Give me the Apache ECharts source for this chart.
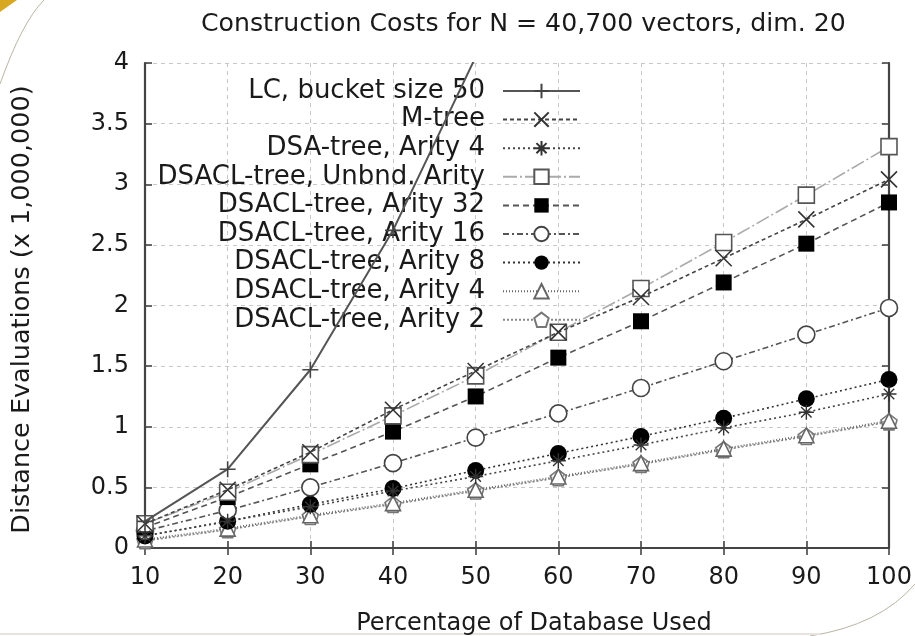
<!DOCTYPE html>
<html>
<head>
<meta charset="utf-8">
<script src="https://cdn.jsdelivr.net/npm/echarts@6/dist/echarts.min.js"></script>
<style>
html,body{margin:0;padding:0;background:#fff;}
#chart{width:915px;height:636px;}
</style>
</head>
<body>
<div id="chart"></div>
<script>
var titleText = 'Construction Costs for N = 40,700 vectors, dim. 20';
var xName = 'Percentage of Database Used';
var yName = 'Distance Evaluations (x 1,000,000)';
var pct = [10, 20, 30, 40, 50, 60, 70, 80, 90, 100];
var seriesNames = ['LC, bucket size 50', 'M-tree', 'DSA-tree, Arity 4', 'DSACL-tree, Unbnd. Arity',
  'DSACL-tree, Arity 32', 'DSACL-tree, Arity 16', 'DSACL-tree, Arity 8', 'DSACL-tree, Arity 4', 'DSACL-tree, Arity 2'];
var lc    = [0.22, 0.65, 1.47, 2.62, 4.05, 5.75];
var mtree = [0.20, 0.48, 0.79, 1.14, 1.46, 1.78, 2.07, 2.39, 2.71, 3.04];
var dsa4  = [0.10, 0.22, 0.34, 0.47, 0.59, 0.72, 0.85, 0.99, 1.12, 1.27];
var unbnd = [0.20, 0.46, 0.77, 1.09, 1.42, 1.78, 2.14, 2.52, 2.91, 3.31];
var a32   = [0.17, 0.42, 0.69, 0.96, 1.25, 1.57, 1.87, 2.19, 2.51, 2.85];
var a16   = [0.14, 0.31, 0.50, 0.70, 0.91, 1.11, 1.32, 1.54, 1.76, 1.98];
var a8    = [0.10, 0.22, 0.36, 0.49, 0.64, 0.78, 0.92, 1.07, 1.23, 1.39];
var a4    = [0.07, 0.16, 0.27, 0.37, 0.48, 0.59, 0.70, 0.82, 0.93, 1.05];
var a2    = [0.06, 0.15, 0.26, 0.36, 0.47, 0.58, 0.69, 0.81, 0.92, 1.04];
var allValues = [lc, mtree, dsa4, unbnd, a32, a16, a8, a4, a2];

var FONT = 'DejaVu Sans';
var TXT = '#1a1a1a';

function pairs(vals) {
  var out = [];
  for (var i = 0; i < vals.length; i++) out.push([pct[i], vals[i]]);
  return out;
}

var styles = [
  {sym: 'path://M0,5L10,5M5,0L5,10', size: 16, fill: 'rgba(0,0,0,0)', stroke: '#444', bw: 1.6, lc: '#555', type: 'solid', lw: 2},
  {sym: 'path://M0,0L10,10M10,0L0,10', size: 16, fill: 'rgba(0,0,0,0)', stroke: '#333', bw: 1.6, lc: '#444', type: [4, 3], lw: 1.6},
  {sym: 'path://M0,5L10,5M5,0L5,10M1.5,1.5L8.5,8.5M8.5,1.5L1.5,8.5', size: 15, fill: 'rgba(0,0,0,0)', stroke: '#333', bw: 1.4, lc: '#444', type: [2, 3], lw: 1.6},
  {sym: 'rect', size: 16, fill: '#fff', stroke: '#555', bw: 1.6, lc: '#aaa', type: [14, 3, 2, 3], lw: 1.6},
  {sym: 'rect', size: 16, fill: '#000', stroke: '#000', bw: 0, lc: '#555', type: [6, 4], lw: 1.6},
  {sym: 'circle', size: 17, fill: '#fff', stroke: '#444', bw: 1.6, lc: '#555', type: [6, 3, 2, 3], lw: 1.6},
  {sym: 'circle', size: 17, fill: '#000', stroke: '#000', bw: 0, lc: '#333', type: [2, 3], lw: 1.6},
  {sym: 'triangle', size: 15, fill: '#fff', stroke: '#666', bw: 1.6, lc: '#666', type: [1, 2], lw: 1.8},
  {sym: 'path://M5,0L10,3.8L8.1,10L1.9,10L0,3.8Z', size: 16, fill: '#fff', stroke: '#777', bw: 1.6, lc: '#888', type: [2, 2], lw: 1.6}
];

var series = [];
for (var k = 0; k < seriesNames.length; k++) {
  var s = styles[k];
  series.push({
    name: seriesNames[k],
    type: 'line',
    data: pairs(allValues[k]),
    symbol: s.sym,
    symbolSize: s.size,
    showAllSymbol: true,
    clip: true,
    z: 10 - k,
    itemStyle: {color: s.fill, borderColor: s.stroke, borderWidth: s.bw},
    lineStyle: {color: s.lc, type: s.type, width: s.lw},
    emphasis: {disabled: true},
    animation: false
  });
}

var chart = echarts.init(document.getElementById('chart'), null, {renderer: 'canvas'});
var axisLineStyle = {color: '#444', width: 2.2};
var tickStyle = {color: '#444', width: 1.6};
var splitStyle = {show: true, lineStyle: {color: '#c8c8c8', type: [4, 4], width: 1}};
chart.setOption({
  animation: false,
  backgroundColor: '#fff',
  title: {
    text: titleText,
    left: 196, top: 7,
    textStyle: {fontFamily: FONT, fontSize: 25.2, fontWeight: 'normal', color: TXT}
  },
  legend: {
    orient: 'vertical',
    align: 'right',
    right: 329,
    top: 73,
    itemWidth: 77,
    itemHeight: 18,
    itemGap: 2.6,
    selectedMode: false,
    data: seriesNames,
    textStyle: {fontFamily: FONT, fontSize: 26, color: TXT, lineHeight: 24, padding: [0, 13, 0, 0]}
  },
  grid: {left: 145, right: 26, top: 63, bottom: 88, containLabel: false, outerBoundsMode: 'none'},
  xAxis: [{
    type: 'value', min: 10, max: 100, interval: 10, position: 'bottom',
    name: xName, nameLocation: 'middle', nameGap: 64,
    nameTextStyle: {fontFamily: FONT, fontSize: 24, color: TXT, padding: [0, 0, 0, 34]},
    axisLine: {show: true, lineStyle: axisLineStyle},
    axisTick: {show: true, inside: true, length: 7, lineStyle: tickStyle},
    axisLabel: {fontFamily: FONT, fontSize: 24, color: TXT, margin: 18},
    splitLine: splitStyle
  }, {
    type: 'value', min: 10, max: 100, interval: 10, position: 'top',
    axisLine: {show: true, lineStyle: axisLineStyle},
    axisTick: {show: true, inside: true, length: 7, lineStyle: tickStyle},
    axisLabel: {show: false},
    splitLine: {show: false}
  }],
  yAxis: [{
    type: 'value', min: 0, max: 4, interval: 0.5, position: 'left',
    name: yName, nameLocation: 'middle', nameGap: 110, nameRotate: 90,
    nameTextStyle: {fontFamily: FONT, fontSize: 25.5, color: TXT, padding: [0, 8, 0, 0]},
    axisLine: {show: true, lineStyle: axisLineStyle},
    axisTick: {show: true, inside: true, length: 7, lineStyle: tickStyle},
    axisLabel: {fontFamily: FONT, fontSize: 24, color: TXT, margin: 16},
    splitLine: splitStyle
  }, {
    type: 'value', min: 0, max: 4, interval: 0.5, position: 'right',
    axisLine: {show: true, lineStyle: axisLineStyle},
    axisTick: {show: true, inside: true, length: 7, lineStyle: tickStyle},
    axisLabel: {show: false},
    splitLine: {show: false}
  }],
  graphic: [
    {type: 'polygon', silent: true, shape: {points: [[0, 0], [17, 0], [0, 12]]}, style: {fill: '#d8a820'}},
    {type: 'bezierCurve', silent: true, shape: {x1: 44, y1: 0, cpx1: 22, cpy1: 22, x2: 0, y2: 84}, style: {stroke: '#b9b4a4', lineWidth: 1, fill: null}},
    {type: 'bezierCurve', silent: true, shape: {x1: 915, y1: 584, cpx1: 880, cpy1: 625, x2: 810, y2: 636}, style: {stroke: '#b9b4a4', lineWidth: 1, fill: null}},
    {type: 'line', silent: true, shape: {x1: 0, y1: 634, x2: 820, y2: 634}, style: {stroke: '#e6e4dc', lineWidth: 2}}
  ],
  series: series
});
</script>
</body>
</html>
